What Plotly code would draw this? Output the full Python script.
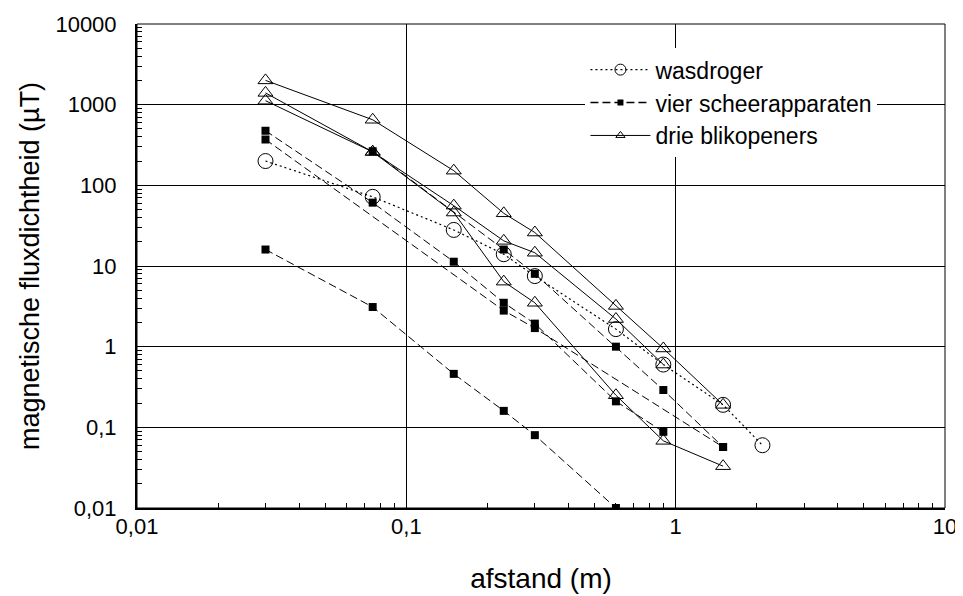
import plotly.graph_objects as go

# ---- data ----
wasdroger_x = [0.03, 0.075, 0.15, 0.23, 0.3, 0.6, 0.9, 1.5, 2.1]
wasdroger_y = [200, 72, 28, 14, 7.5, 1.65, 0.6, 0.19, 0.06]

scheer_a_x = [0.03, 0.075, 0.15, 0.23, 0.3, 0.6, 0.9]
scheer_a_y = [475, 61, 11.3, 3.5, 1.93, 0.21, 0.088]
scheer_b_x = [0.03, 0.23, 0.3, 1.5]
scheer_b_y = [370, 2.8, 1.7, 0.057]
scheer_c_x = [0.075, 0.23, 0.3, 0.6, 0.9, 1.5]
scheer_c_y = [265, 16, 8, 1.0, 0.29, 0.057]
scheer_d_x = [0.03, 0.075, 0.15, 0.23, 0.3, 0.6]
scheer_d_y = [16, 3.1, 0.46, 0.16, 0.08, 0.01]

blik_1_x = [0.03, 0.075, 0.15, 0.23, 0.3, 0.6, 0.9, 1.5]
blik_1_y = [2000, 650, 152, 45, 26, 3.2, 0.95, 0.19]
blik_2_x = [0.03, 0.075, 0.15, 0.23, 0.3, 0.6, 0.9]
blik_2_y = [1400, 260, 56, 20.5, 14.6, 2.2, 0.6]
blik_3_x = [0.03, 0.075, 0.15, 0.23, 0.3, 0.6, 0.9, 1.5]
blik_3_y = [1120, 260, 46, 6.4, 3.5, 0.25, 0.068, 0.033]

x_tickvals = [0.01, 0.1, 1, 10]
x_ticktext = ["0,01", "0,1", "1", "10"]
y_tickvals = [0.01, 0.1, 1, 10, 100, 1000, 10000]
y_ticktext = ["0,01", "0,1", "1", "10", "100", "1000", "10000"]

FONT = "Liberation Sans, Arial, sans-serif"
DOT = "2px,3px"
DASH = "8px,4px"

fig = go.Figure()

# data traces
fig.add_trace(go.Scatter(
    x=wasdroger_x, y=wasdroger_y, mode="lines+markers", name="wasdroger",
    legendgroup="w", showlegend=False,
    line=dict(color="black", width=1.2, dash=DOT),
    marker=dict(symbol="circle-open", size=15, color="black", line=dict(width=1))))

for xs, ys in [(scheer_a_x, scheer_a_y), (scheer_b_x, scheer_b_y),
               (scheer_c_x, scheer_c_y), (scheer_d_x, scheer_d_y)]:
    fig.add_trace(go.Scatter(
        x=xs, y=ys, mode="lines+markers", name="vier scheerapparaten",
        legendgroup="s", showlegend=False,
        line=dict(color="black", width=1, dash=DASH),
        marker=dict(symbol="square", size=8, color="black")))

for xs, ys in [(blik_1_x, blik_1_y), (blik_2_x, blik_2_y), (blik_3_x, blik_3_y)]:
    fig.add_trace(go.Scatter(
        x=xs, y=ys, mode="lines+markers", name="drie blikopeners",
        legendgroup="b", showlegend=False,
        line=dict(color="black", width=1),
        marker=dict(symbol="triangle-up-open", size=13, color="black", line=dict(width=1))))

# legend-only entries (smaller symbols, as in the reference legend)
fig.add_trace(go.Scatter(x=[None], y=[None], mode="lines+markers", name="wasdroger",
                         legendgroup="w",
                         line=dict(color="black", width=1.2, dash=DOT),
                         marker=dict(symbol="circle-open", size=11, color="black", line=dict(width=1))))
fig.add_trace(go.Scatter(x=[None], y=[None], mode="lines+markers", name="vier scheerapparaten",
                         legendgroup="s",
                         line=dict(color="black", width=1.5, dash=DASH),
                         marker=dict(symbol="square", size=6, color="black")))
fig.add_trace(go.Scatter(x=[None], y=[None], mode="lines+markers", name="drie blikopeners",
                         legendgroup="b",
                         line=dict(color="black", width=1),
                         marker=dict(symbol="triangle-up-open", size=8, color="black", line=dict(width=1))))

axis_common = dict(
    type="log", showgrid=True, gridcolor="black", gridwidth=1,
    showline=True, linecolor="black", linewidth=2,
    ticks="inside", ticklen=6, tickcolor="black", tickwidth=1,
    tickfont=dict(family=FONT, size=22, color="black"),
    minor=dict(ticks="inside", ticklen=5, tickcolor="black", dtick="D1", showgrid=False),
    zeroline=False, automargin=False,
)

fig.update_xaxes(range=[-2, 1], tickmode="array", tickvals=x_tickvals, ticktext=x_ticktext,
                 ticklabelstandoff=-2,
                 title=dict(text="afstand (m)", font=dict(family=FONT, size=28, color="black"), standoff=30),
                 **axis_common)
fig.update_yaxes(range=[-2, 4], tickmode="array", tickvals=y_tickvals, ticktext=y_ticktext,
                 ticklabelstandoff=14,
                 title=dict(text="magnetische fluxdichtheid (µT)", font=dict(family=FONT, size=27, color="black"), standoff=8),
                 **axis_common)

fig.add_shape(type="rect", xref="paper", yref="paper", x0=0, y0=0, x1=1, y1=1,
              line=dict(color="black", width=1), layer="below")

# the page body keeps its default 8px margin, so the figure is sized to fit the window
fig.update_layout(
    width=955, height=588,
    margin=dict(l=129, r=18, t=16, b=88),
    paper_bgcolor="white", plot_bgcolor="white",
    font=dict(family=FONT, size=22, color="black"),
    showlegend=True,
    legend=dict(x=0.555, y=0.95, xanchor="left", yanchor="top",
                bgcolor="white", borderwidth=0, tracegroupgap=0,
                traceorder="grouped", itemwidth=60,
                font=dict(family=FONT, size=23, color="black")),
)

fig.write_html("out.html")
